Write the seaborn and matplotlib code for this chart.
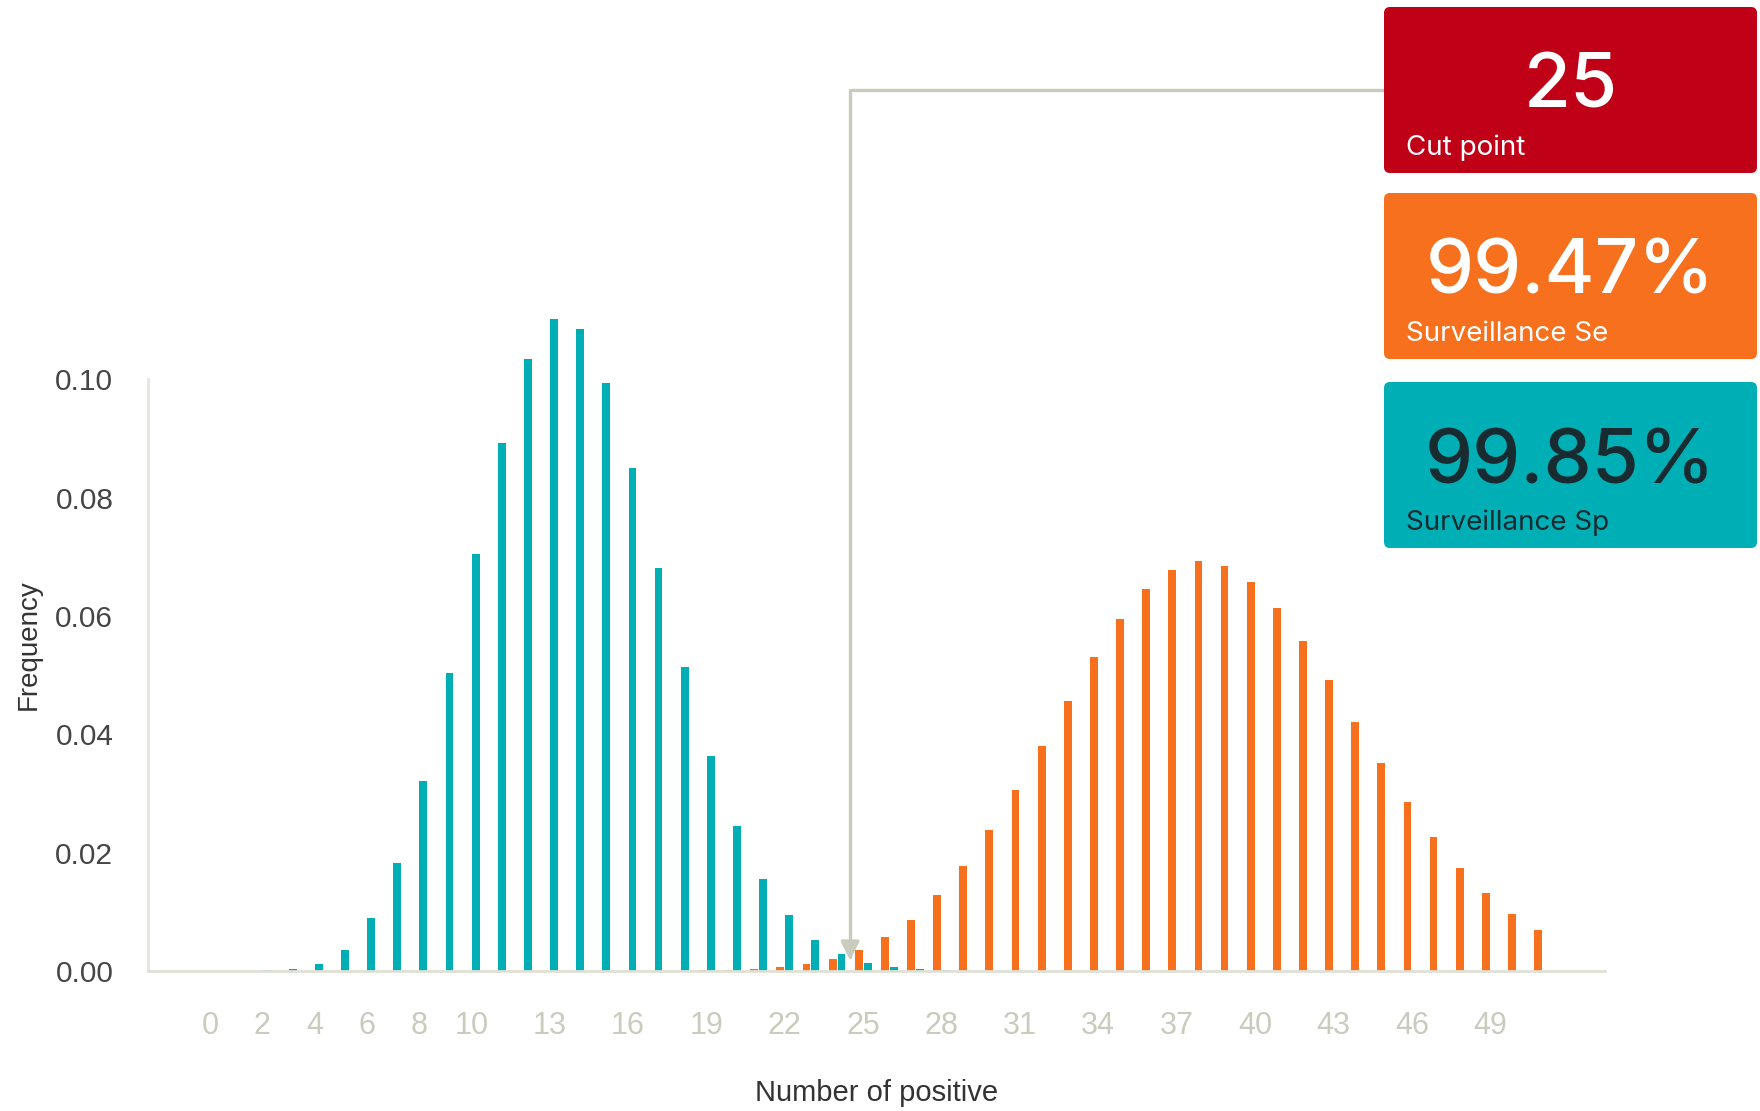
import matplotlib
matplotlib.use("Agg")
import matplotlib.pyplot as plt
from matplotlib import font_manager
from matplotlib.patches import FancyBboxPatch
import numpy as np
import pandas as pd
import seaborn as sns

# number of positive animals (0..51)
positives = list(range(52))

# frequency when herd is infected (orange) and free (teal)
freq_infected = [0, 0, 0, 0, 0, 0, 0, 0, 0, 0,
                 0, 0, 0, 0, 0, 0, 0, 0, 0, 0.0001,
                 0.0001, 0.0003, 0.0006, 0.0011, 0.0020, 0.0036, 0.0057, 0.0087, 0.0128, 0.0178,
                 0.0238, 0.0306, 0.0381, 0.0457, 0.0530, 0.0595, 0.0645, 0.0678, 0.0693, 0.0685,
                 0.0658, 0.0614, 0.0557, 0.0491, 0.0421, 0.0352, 0.0285, 0.0227, 0.0174, 0.0132,
                 0.0096, 0.0069]
freq_free = [0, 0, 0.0001, 0.0003, 0.0012, 0.0036, 0.0089, 0.0182, 0.0321, 0.0504,
             0.0705, 0.0893, 0.1035, 0.1102, 0.1085, 0.0994, 0.0850, 0.0681, 0.0514, 0.0364,
             0.0245, 0.0156, 0.0094, 0.0053, 0.0028, 0.0014, 0.0007, 0.0003, 0.0001, 0,
             0, 0, 0, 0, 0, 0, 0, 0, 0, 0,
             0, 0, 0, 0, 0, 0, 0, 0, 0, 0,
             0, 0]

xtick_values = [0, 2, 4, 6, 8, 10, 13, 16, 19, 22, 25, 28, 31, 34, 37, 40, 43, 46, 49]
ytick_values = [0.00, 0.02, 0.04, 0.06, 0.08, 0.10]

cut_point = 25
cards = [("25", "Cut point"), ("99.47%", "Surveillance Se"), ("99.85%", "Surveillance Sp")]

ORANGE = "#f7701d"
TEAL = "#00afb6"
RED = "#c00017"
DARK = "#172b30"
LINE = "#c9ccbd"


def pick_font(*names):
    avail = {f.name for f in font_manager.fontManager.ttflist}
    for n in names:
        if n in avail:
            return n
    return "DejaVu Sans"


sans = pick_font("Liberation Sans", "Arial", "DejaVu Sans")
narrow = pick_font("Liberation Sans Narrow", "Liberation Sans", "DejaVu Sans")
card_font = pick_font("Inter", "Roboto", "DejaVu Sans")

sns.set_theme(style="white")
plt.rcParams["font.family"] = [sans]

df = pd.DataFrame({
    "positive": positives * 2,
    "group": ["infected"] * len(positives) + ["free"] * len(positives),
    "frequency": freq_infected + freq_free,
})

W, H = 1760, 1111
fig = plt.figure(figsize=(W / 100, H / 100), dpi=100)
ax = fig.add_axes([148 / W, 1 - 971 / H, (1605 - 148) / W, 710 / H])

sns.barplot(data=df, x="positive", y="frequency", hue="group",
            order=positives, hue_order=["infected", "free"],
            palette=[ORANGE, TEAL], width=0.68, gap=0.12,
            saturation=1, linewidth=0, edgecolor="none",
            legend=False, ax=ax)

ax.set_xlim(-2.37, 53.39)
ax.set_ylim(0, 0.12)

for s in ["top", "right"]:
    ax.spines[s].set_visible(False)
ax.spines["left"].set_color("#e6e6df")
ax.spines["left"].set_linewidth(2)
ax.spines["left"].set_bounds(0, 0.10)
ax.spines["bottom"].set_color("#e0e0d6")
ax.spines["bottom"].set_linewidth(2)

ax.set_yticks(ytick_values)
ax.set_yticklabels([f"{v:.2f}" for v in ytick_values], fontsize=21.5, color="#454545", family=sans)
ax.set_xticks(xtick_values)
ax.set_xticklabels([str(v) for v in xtick_values], fontsize=22, color="#c9cbbd", family=narrow)
ax.tick_params(axis="y", length=0, pad=25)
ax.tick_params(axis="x", length=0, pad=29)

ax.set_xlabel("Number of positive", fontsize=21, color="#333333", family=narrow)
ax.set_ylabel("Frequency", fontsize=20, color="#333333", family=sans)
ax.xaxis.set_label_coords(0.5, -0.152)
ax.yaxis.set_label_coords(-0.073, 0.46)

# connector from the cut point card down to the threshold
box_left = 1384
ax.annotate("", xy=(cut_point - 0.5, 0.0018), xycoords="data",
            xytext=(box_left, H - 90), textcoords="figure pixels",
            arrowprops=dict(arrowstyle="-|>,head_length=0.8,head_width=0.4",
                            connectionstyle="angle,angleA=0,angleB=90,rad=0",
                            color=LINE, lw=2.4, shrinkA=0, shrinkB=0,
                            mutation_scale=14))

# summary cards
card_colors = [RED, ORANGE, TEAL]
text_colors = ["white", "white", DARK]
tops = [7, 193, 382]
card_w, card_h = 1757 - 1384, 166
for (value, label), top, fc, tc in zip(cards, tops, card_colors, text_colors):
    patch = FancyBboxPatch((box_left, H - top - card_h), card_w, card_h,
                           boxstyle="round,pad=0,rounding_size=6",
                           transform=None, facecolor=fc, edgecolor="none")
    fig.patches.append(patch)
    fig.text((box_left + card_w / 2) / W, 1 - (top + 101) / H, value,
             ha="center", va="baseline", fontsize=55, color=tc, family=card_font,
             fontweight="medium")
    fig.text(1406 / W, 1 - (top + 148) / H, label,
             ha="left", va="baseline", fontsize=20, color=tc, family=card_font)

fig.savefig("out.png", dpi=100, facecolor="white")
